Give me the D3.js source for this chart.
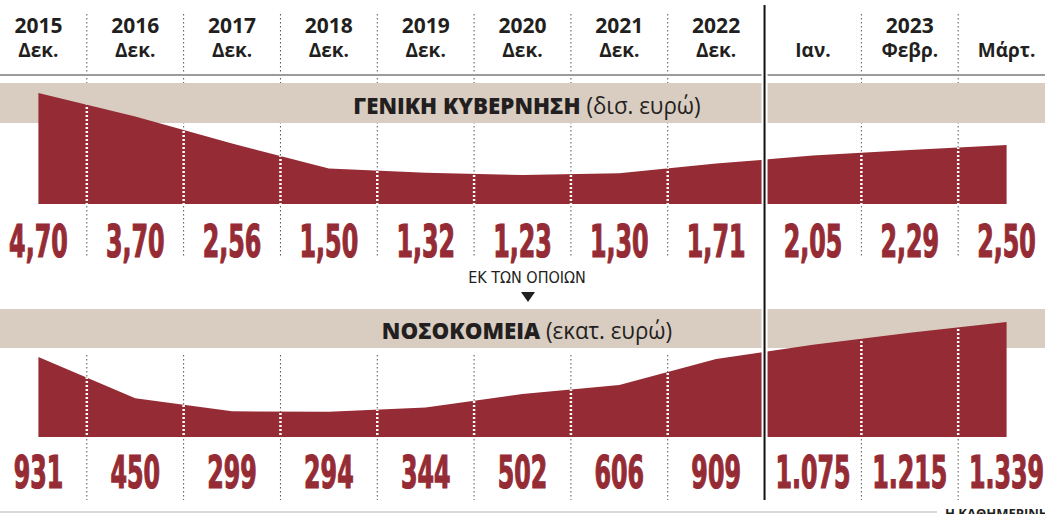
<!DOCTYPE html>
<html>
<head>
<meta charset="utf-8">
<script src="https://cdn.jsdelivr.net/npm/d3@7"></script>
<style>
  body { margin: 0; background: #fff; }
  svg { display: block; }
</style>
</head>
<body>
<script>
//==============================================================================
// DATA
//==============================================================================

const years = ['2015', '2016', '2017', '2018', '2019', '2020', '2021', '2022', '', '2023', ''];
const months = ['Δεκ.', 'Δεκ.', 'Δεκ.', 'Δεκ.', 'Δεκ.', 'Δεκ.', 'Δεκ.', 'Δεκ.', 'Ιαν.', 'Φεβρ.', 'Μάρτ.'];
const government = [4.70, 3.70, 2.56, 1.50, 1.32, 1.23, 1.30, 1.71, 2.05, 2.29, 2.50];   // δισ. ευρώ
const hospitals = [931, 450, 299, 294, 344, 502, 606, 909, 1075, 1215, 1339];              // εκατ. ευρώ
const splitAt = 8; // first month of 2023

//==============================================================================
// PARAMETERS
//==============================================================================

const width = 1045;
const height = 514;
const red = '#952b34';
const beige = '#d9ccc0';
const ink = '#231f20';
const narrow = "'DejaVu Sans Condensed', 'DejaVu Sans', sans-serif";
const sans = "'Open Sans', 'DejaVu Sans', sans-serif";

const gr = d3.formatLocale({ decimal: ',', thousands: '.', grouping: [3], currency: ['', '€'] });
const fmtGov = gr.format(',.2f');
const fmtHosp = gr.format(',d');

const keys = d3.range(months.length);
const x = d3.scaleBand().domain(keys).range([-10, 1055]).padding(0);
const cx = i => x(i) + x.bandwidth() / 2;

const yGov = d3.scaleLinear().domain([0, d3.max(government)]).range([204, 93]);
const yHosp = d3.scaleLinear().domain([0, d3.max(hospitals)]).range([437, 322]);

const svg = d3.select('body').append('svg')
  .attr('width', width)
  .attr('height', height);

//==============================================================================
// DRAW
//==============================================================================

// dotted dividers between periods (under the bands)
const divs = keys.filter(i => i > 0 && i !== splitAt);
const dividerSpans = [[14, 258], [355, 500]];
dividerSpans.forEach(([y0, y1]) => {
  svg.append('g').selectAll('line')
    .data(divs)
    .enter()
    .append('line')
    .attr('x1', d => x(d)).attr('x2', d => x(d))
    .attr('y1', y0).attr('y2', y1)
    .attr('stroke', '#555')
    .attr('stroke-width', 1)
    .attr('stroke-dasharray', '1.5,2.5');
});

// header rule
svg.append('line')
  .attr('x1', 0).attr('x2', width)
  .attr('y1', 75).attr('y2', 75)
  .attr('stroke', '#9b9b9b')
  .attr('stroke-width', 2);

// header labels
svg.append('g').selectAll('text')
  .data(keys)
  .enter()
  .append('text')
  .attr('x', d => cx(d))
  .attr('y', 33)
  .attr('text-anchor', 'middle')
  .style('font-family', sans)
  .style('font-weight', 700)
  .style('font-size', '21px')
  .attr('fill', ink)
  .text(d => years[d]);

svg.append('g').selectAll('text')
  .data(keys)
  .enter()
  .append('text')
  .attr('x', d => cx(d))
  .attr('y', 57)
  .attr('text-anchor', 'middle')
  .style('font-family', sans)
  .style('font-weight', 700)
  .style('font-size', '19px')
  .attr('fill', ink)
  .text(d => months[d]);

// one panel: beige title band, area, white dotted dividers, values
function panel(id, values, y, bandTop, bandBottom, titleBold, titleUnit, fmt, labelY) {
  const g = svg.append('g');

  g.append('rect')
    .attr('x', 0).attr('y', bandTop)
    .attr('width', width).attr('height', bandBottom - bandTop)
    .attr('fill', beige);

  const area = d3.area()
    .x((d, i) => cx(i))
    .y0(y(0))
    .y1(d => y(d));

  g.append('clipPath')
    .attr('id', 'clip-' + id)
    .append('path')
    .attr('d', area(values));

  g.append('path')
    .attr('d', area(values))
    .attr('fill', red);

  g.append('g')
    .attr('clip-path', `url(#clip-${id})`)
    .selectAll('line')
    .data(divs)
    .enter()
    .append('line')
    .attr('x1', d => x(d)).attr('x2', d => x(d))
    .attr('y1', bandTop).attr('y2', y(0))
    .attr('stroke', '#fff')
    .attr('stroke-width', 2.5)
    .attr('stroke-dasharray', '2,2');

  const title = g.append('text')
    .attr('transform', `translate(527,${bandBottom - 9}) scale(0.97,1)`)
    .attr('text-anchor', 'middle')
    .style('font-family', sans)
    .style('font-size', '23px')
    .attr('fill', ink);
  title.append('tspan').style('font-weight', 800).text(titleBold + ' ');
  title.append('tspan').style('font-weight', 400).text(titleUnit);

  g.append('g').selectAll('text')
    .data(values)
    .enter()
    .append('text')
    .attr('transform', (d, i) => `translate(${cx(i)},${labelY}) scale(0.6,1)`)
    .attr('text-anchor', 'middle')
    .style('font-family', narrow)
    .style('font-weight', 700)
    .style('font-size', '44px')
    .attr('fill', red)
    .attr('stroke', red)
    .attr('stroke-width', 1.2)
    .text(d => fmt(d));
}

panel('gov', government, yGov, 83, 123, 'ΓΕΝΙΚΗ ΚΥΒΕΡΝΗΣΗ', '(δισ. ευρώ)', fmtGov, 257);
panel('hosp', hospitals, yHosp, 309, 348, 'ΝΟΣΟΚΟΜΕΙΑ', '(εκατ. ευρώ)', fmtHosp, 488);

// "of which" note with arrow
svg.append('text')
  .attr('x', 527)
  .attr('y', 283)
  .attr('text-anchor', 'middle')
  .style('font-family', narrow)
  .style('font-size', '16px')
  .attr('fill', ink)
  .text('ΕΚ ΤΩΝ ΟΠΟΙΩΝ');

svg.append('path')
  .attr('d', d3.line()([[521, 292], [535, 292], [528, 302]]) + 'Z')
  .attr('fill', ink);

// split between 2022 and 2023: white gap and black rule
const splitX = x(splitAt);
svg.append('rect')
  .attr('x', splitX - 3).attr('y', 70)
  .attr('width', 6).attr('height', 430)
  .attr('fill', '#fff');

svg.append('line')
  .attr('x1', splitX).attr('x2', splitX)
  .attr('y1', 5).attr('y2', 500)
  .attr('stroke', '#111')
  .attr('stroke-width', 2);

// footer rule and source
svg.append('line')
  .attr('x1', 0).attr('x2', 937)
  .attr('y1', 512).attr('y2', 512)
  .attr('stroke', '#ccc')
  .attr('stroke-width', 1.5);

svg.append('text')
  .attr('x', 945)
  .attr('y', 518)
  .style('font-family', sans)
  .style('font-weight', 700)
  .style('font-size', '13px')
  .attr('fill', ink)
  .text('Η ΚΑΘΗΜΕΡΙΝΗ');
</script>
</body>
</html>
